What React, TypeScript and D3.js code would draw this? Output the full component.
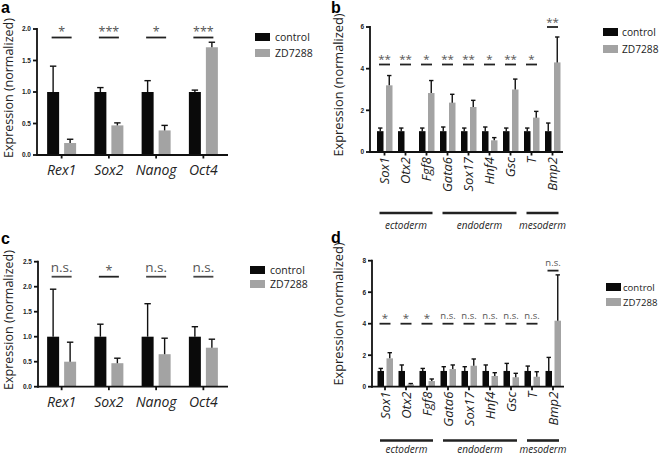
import React from 'react';
import * as d3 from 'd3';

// series
const seriesNames = ['control', 'ZD7288'];
const seriesColors = ['#0a0a0a', '#a3a3a3'];

// panels a / c: pluripotency markers
const pluriGenes = ['Rex1', 'Sox2', 'Nanog', 'Oct4'];
const ctrlA = [1, 1, 1, 1];
const ctrlErrA = [0.41, 0.07, 0.18, 0.03];
const zdA = [0.19, 0.47, 0.39, 1.71];
const zdErrA = [0.06, 0.04, 0.08, 0.08];
const sigA = ['*', '***', '*', '***'];
const sigLevelA = [1.865, 1.865, 1.865, 1.865];

const ctrlC = [1, 1, 1, 1];
const ctrlErrC = [0.95, 0.25, 0.66, 0.2];
const zdC = [0.5, 0.47, 0.65, 0.78];
const zdErrC = [0.39, 0.1, 0.32, 0.17];
const sigC = ['n.s.', '*', 'n.s.', 'n.s.'];
const sigLevelC = [2.2, 2.2, 2.2, 2.2];

// panels b / d: lineage markers
const lineageGenes = ['Sox1', 'Otx2', 'Fgf8', 'Gata6', 'Sox17', 'Hnf4', 'Gsc', 'T', 'Bmp2'];
const germLayers = ['ectoderm', 'endoderm', 'mesoderm'];
const germFirst = ['Sox1', 'Gata6', 'T'];
const germLast = ['Fgf8', 'Gsc', 'Bmp2'];

const ctrlB = [1, 1, 1, 1, 1, 1, 1, 1, 1];
const ctrlErrB = [0.15, 0.15, 0.15, 0.2, 0.15, 0.2, 0.15, 0.15, 0.39];
const zdB = [3.2, 0, 2.83, 2.37, 2.16, 0.56, 3.0, 1.65, 4.3];
const zdErrB = [0.47, 0, 0.6, 0.4, 0.32, 0.13, 0.5, 0.3, 1.22];
const sigB = ['**', '**', '*', '**', '**', '*', '**', '*', '**'];
const sigLevelB = [4.2, 4.2, 4.2, 4.2, 4.2, 4.2, 4.2, 4.2, 6.0];

const ctrlD = [1, 1, 1, 1, 1, 1, 1, 1, 1];
const ctrlErrD = [0.16, 0.38, 0.16, 0.27, 0.27, 0.38, 0.48, 0.31, 0.86];
const zdD = [1.8, 0.15, 0.36, 1.12, 1.33, 0.68, 0.6, 0.63, 4.19];
const zdErrD = [0.36, 0.05, 0.13, 0.26, 0.43, 0.21, 0.25, 0.32, 2.91];
const sigD = ['*', '*', '*', 'n.s.', 'n.s.', 'n.s.', 'n.s.', 'n.s.', 'n.s.'];
const sigLevelD = [4.0, 4.0, 4.0, 4.0, 4.0, 4.0, 4.0, 4.0, 7.37];

const ticksA = [0, 0.5, 1, 1.5, 2];
const ticksB = [0, 2, 4, 6];
const ticksC = [0, 0.5, 1, 1.5, 2, 2.5];
const ticksD = [0, 2, 4, 6, 8];

const FONT = '"Open Sans", "DejaVu Sans", sans-serif';
const TICKFONT = '"Liberation Sans", Arial, sans-serif';

interface PanelProps {
  letter: string;
  letterPos: [number, number];
  genes: string[];
  ctrl: number[];
  ctrlErr: number[];
  zd: number[];
  zdErr: number[];
  sig: string[];
  sigLevel: number[];
  ticks: number[];
  tickFmt: string;
  axisX: number;
  band: [number, number];
  axisEnd: number;
  yRange: [number, number];
  wide: boolean;
  ylabelPos: [number, number];
  ylabelSize: number;
  legendPos: [number, number];
  legendGap: number;
  legendTextX?: number;
  legendSize?: number;
  layerY?: number;
  layerTextDy?: number;
}

const Panel: React.FC<PanelProps> = (p) => {
  const yMax = p.ticks[p.ticks.length - 1];
  const y = d3.scaleLinear().domain([0, yMax]).range(p.yRange);
  const x = d3.scaleBand<string>().domain(p.genes).range(p.band);
  const cx = (g: string) => (x(g) as number) + x.bandwidth() / 2;
  const fmt = d3.format(p.tickFmt);

  const bw = p.wide ? 12 : 6.5;
  const off = p.wide ? [-14.5, 2.5] : [-7.5, 1.5];
  const cap = p.wide ? 3.2 : 2.2;
  const sigHalf = p.wide ? 10 : 5.5;
  const y0 = p.yRange[0];

  const series = [
    { vals: p.ctrl, errs: p.ctrlErr },
    { vals: p.zd, errs: p.zdErr },
  ];

  return (
    <g>
      <text x={p.letterPos[0]} y={p.letterPos[1]} fontFamily={TICKFONT} fontWeight="bold" fontSize={16}>
        {p.letter}
      </text>
      <text
        transform={`translate(${p.ylabelPos[0]},${p.ylabelPos[1]}) rotate(-90)`}
        textAnchor="middle"
        fontFamily={FONT}
        fontSize={p.ylabelSize}
        fill="#222"
      >
        Expression (normalized)
      </text>

      {/* bars + error bars */}
      {series.map((s, si) =>
        p.genes.map((g, i) => {
          const bx = cx(g) + off[si];
          const top = y(s.vals[i]);
          const et = y(s.vals[i] + s.errs[i]);
          const mid = bx + bw / 2;
          return (
            <g key={`${si}-${g}`}>
              {s.vals[i] > 0 && (
                <rect x={bx} y={top} width={bw} height={y0 - top} fill={seriesColors[si]} />
              )}
              {s.errs[i] > 0 && (
                <g stroke="#111" strokeWidth={1.4}>
                  <line x1={mid} x2={mid} y1={top} y2={et} />
                  <line x1={mid - cap} x2={mid + cap} y1={et} y2={et} />
                </g>
              )}
            </g>
          );
        })
      )}

      {/* axes */}
      <g stroke="#111" strokeWidth={1.8}>
        <line x1={p.axisX} x2={p.axisX} y1={y(yMax) - 1} y2={y0 + 1} />
        <line x1={p.axisX} x2={p.axisEnd} y1={y0} y2={y0} />
        {p.ticks.map((t) => (
          <line key={t} x1={p.axisX - 4} x2={p.axisX} y1={y(t)} y2={y(t)} />
        ))}
        {p.genes.map((g) => (
          <line key={g} x1={cx(g)} x2={cx(g)} y1={y0} y2={y0 + 3.5} />
        ))}
      </g>
      {p.ticks.map((t) => (
        <text
          key={t}
          x={p.axisX - 6}
          y={y(t) + 2.3}
          textAnchor="end"
          fontFamily={TICKFONT}
          fontWeight="bold"
          fontSize={6.5}
          fill="#222"
        >
          {fmt(t)}
        </text>
      ))}

      {/* gene labels */}
      {p.genes.map((g) =>
        p.wide ? (
          <text
            key={g}
            x={cx(g)}
            y={y0 + 20}
            textAnchor="middle"
            fontFamily={FONT}
            fontStyle="italic"
            fontSize={14}
            fill="#222"
          >
            {g}
          </text>
        ) : (
          <text
            key={g}
            transform={`translate(${cx(g) + 4.8},${y0 + 5}) rotate(-90)`}
            textAnchor="end"
            fontFamily={FONT}
            fontStyle="italic"
            fontSize={13}
            fill="#222"
          >
            {g}
          </text>
        )
      )}

      {/* significance */}
      {p.genes.map((g, i) => {
        const ly = y(p.sigLevel[i]);
        const ns = p.sig[i] === 'n.s.';
        const fs = ns ? (p.wide ? 13.5 : 9.5) : p.wide ? 12.5 : 11.5;
        return (
          <g key={g}>
            <line
              x1={cx(g) - sigHalf}
              x2={cx(g) + sigHalf}
              y1={ly}
              y2={ly}
              stroke={p.wide && ns ? '#444' : '#222'}
              strokeWidth={1.8}
            />
            <text
              x={cx(g)}
              y={ns ? ly - 5 : ly - 1.5}
              textAnchor="middle"
              fontFamily={FONT}
              fontSize={fs}
              fill="#555"
            >
              {p.sig[i]}
            </text>
          </g>
        );
      })}

      {/* germ layer brackets */}
      {p.layerY !== undefined &&
        germLayers.map((name, i) => {
          const a = cx(germFirst[i]) - 5;
          const b = cx(germLast[i]) + 6;
          return (
            <g key={name}>
              <line x1={a} x2={b} y1={p.layerY} y2={p.layerY} stroke="#222" strokeWidth={2.6} />
              <text
                x={(a + b) / 2}
                y={(p.layerY as number) + (p.layerTextDy ?? 16)}
                textAnchor="middle"
                fontFamily={FONT}
                fontStyle="italic"
                fontSize={10}
                fill="#222"
              >
                {name}
              </text>
            </g>
          );
        })}

      {/* legend */}
      {seriesNames.map((n, i) => (
        <g key={n} transform={`translate(${p.legendPos[0]},${p.legendPos[1] + i * p.legendGap})`}>
          <rect x={0} y={0} width={15} height={8} fill={seriesColors[i]} />
          <text x={p.legendTextX ?? 20} y={8} fontFamily={FONT} fontSize={p.legendSize ?? 10.5} fill="#222">
            {n}
          </text>
        </g>
      ))}
    </g>
  );
};

export default function App() {
  return (
    <svg
      width={661}
      height={457}
      viewBox="0 0 661 457"
      style={{ position: 'absolute', left: 0, top: 0, background: '#fff' }}
    >
      <Panel
        letter="a"
        letterPos={[1, 13]}
        genes={pluriGenes}
        ctrl={ctrlA}
        ctrlErr={ctrlErrA}
        zd={zdA}
        zdErr={zdErrA}
        sig={sigA}
        sigLevel={sigLevelA}
        ticks={ticksA}
        tickFmt=".1f"
        axisX={37}
        band={[38, 227]}
        axisEnd={228}
        yRange={[155, 29]}
        wide={true}
        ylabelPos={[13, 88]}
        ylabelSize={12.5}
        legendPos={[255, 33]}
        legendGap={16}
      />
      <Panel
        letter="b"
        letterPos={[331, 13]}
        genes={lineageGenes}
        ctrl={ctrlB}
        ctrlErr={ctrlErrB}
        zd={zdB}
        zdErr={zdErrB}
        sig={sigB}
        sigLevel={sigLevelB}
        ticks={ticksB}
        tickFmt="d"
        axisX={370}
        band={[374, 563]}
        axisEnd={563}
        yRange={[152, 27]}
        wide={false}
        ylabelPos={[343, 85]}
        ylabelSize={12.8}
        legendPos={[603, 28]}
        legendGap={17}
        legendTextX={19}
        legendSize={10.2}
        layerY={213}
        layerTextDy={16}
      />
      <Panel
        letter="c"
        letterPos={[1, 244]}
        genes={pluriGenes}
        ctrl={ctrlC}
        ctrlErr={ctrlErrC}
        zd={zdC}
        zdErr={zdErrC}
        sig={sigC}
        sigLevel={sigLevelC}
        ticks={ticksC}
        tickFmt=".1f"
        axisX={38}
        band={[38, 227]}
        axisEnd={228}
        yRange={[386.7, 261.7]}
        wide={true}
        ylabelPos={[13, 320]}
        ylabelSize={12.5}
        legendPos={[250, 266]}
        legendGap={14}
      />
      <Panel
        letter="d"
        letterPos={[331, 243]}
        genes={lineageGenes}
        ctrl={ctrlD}
        ctrlErr={ctrlErrD}
        zd={zdD}
        zdErr={zdErrD}
        sig={sigD}
        sigLevel={sigLevelD}
        ticks={ticksD}
        tickFmt="d"
        axisX={372}
        band={[374.5, 563.5]}
        axisEnd={564}
        yRange={[386.7, 260.7]}
        wide={false}
        ylabelPos={[343, 314]}
        ylabelSize={12.8}
        legendPos={[606, 283]}
        legendGap={15}
        legendTextX={17}
        legendSize={9.6}
        layerY={440.5}
        layerTextDy={12.5}
      />
    </svg>
  );
}
